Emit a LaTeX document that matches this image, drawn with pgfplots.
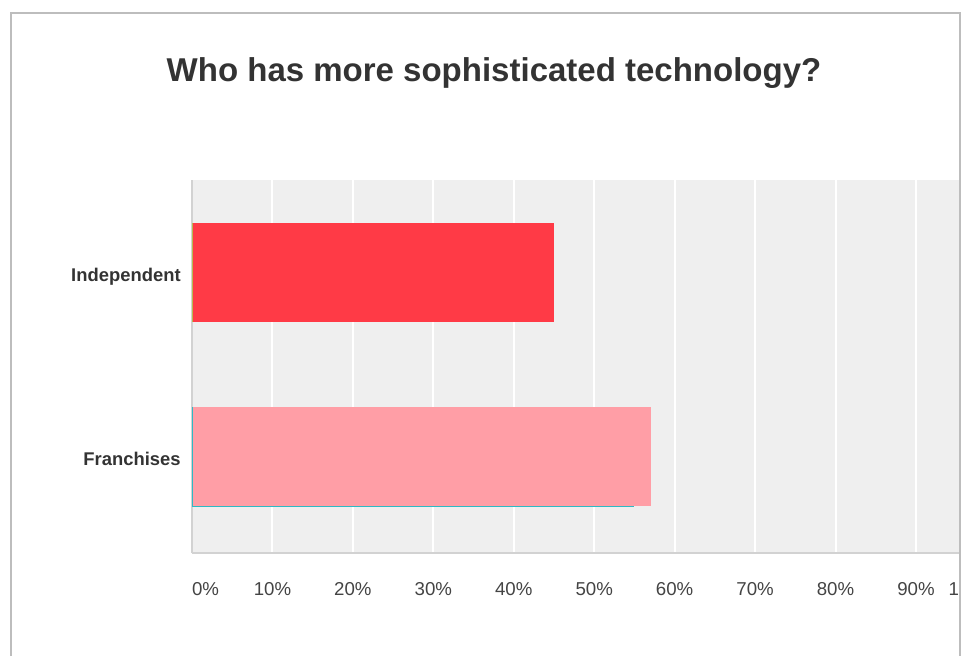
\documentclass[border=0pt]{standalone}
\usepackage{pgfplots}
\pgfplotsset{compat=1.18}
\usepackage{fontspec}
\setmainfont{Liberation Sans}
\definecolor{bgc}{HTML}{EFEFEF}
\definecolor{indc}{HTML}{FF3A46}
\definecolor{frac}{HTML}{FF9EA6}
\definecolor{titlec}{HTML}{333333}
\definecolor{tickc}{HTML}{444444}
\definecolor{catc}{HTML}{333333}
\definecolor{framec}{HTML}{BDBDBD}
\definecolor{axisc}{HTML}{D2D2D2}
\definecolor{tealc}{HTML}{2FB9C4}
\definecolor{olivec}{HTML}{B8B84E}
\begin{document}
\begin{tikzpicture}
\useasboundingbox (0pt,0pt) rectangle (724.5pt,-492pt);
\node[anchor=base, text=titlec, font=\bfseries\fontsize{24.75}{30}\selectfont, inner sep=0pt]
  at (370.5pt,-61.5pt) {Who has more sophisticated technology?};
\begin{scope}
\clip (0pt,0pt) rectangle (720pt,-492pt);
\begin{axis}[
  at={(144pt,-414.75pt)}, anchor=south west,
  scale only axis, width=603.3pt, height=280.1pt,
  xmin=0, xmax=100, ymin=-0.5255, ymax=1.504,
  axis background/.style={fill=bgc},
  axis x line=bottom, axis y line=left,
  axis line style={draw=axisc, line width=1.2pt, -},
  xtick={0,10,...,100},
  xticklabels={\makebox[0pt][l]{0\%},10\%,20\%,30\%,40\%,50\%,60\%,70\%,80\%,90\%,\makebox[0pt][r]{100\%}},
  xticklabel style={anchor=base, yshift=-31.5pt, text=tickc, font=\fontsize{14}{16}\selectfont},
  ytick={0,1},
  yticklabels={Franchises,Independent},
  yticklabel style={anchor=base east, xshift=-5pt, yshift=-7pt, text=catc, font=\bfseries\fontsize{13.8}{16}\selectfont},
  major tick length=0pt,
  xmajorgrids,
  major grid style={white, line width=1.5pt},
  clip=false,
]
\addplot[xbar, bar width=0.536, bar shift=0pt, fill=indc, draw=none] coordinates {(45,1)};
\addplot[xbar, bar width=0.536, bar shift=0pt, fill=frac, draw=none] coordinates {(57,0)};
\addplot[tealc, line width=1pt] coordinates {(0,-0.274) (55,-0.274)};
\addplot[tealc, line width=0.7pt] coordinates {(0,-0.274) (0,0.268)};
\addplot[olivec, line width=0.7pt] coordinates {(0,0.732) (0,1.268)};
\end{axis}
\end{scope}
\draw[framec, line width=1.5pt] (8.25pt,-492pt) -- (8.25pt,-9.75pt) -- (720pt,-9.75pt) -- (720pt,-492pt);
\end{tikzpicture}
\end{document}
